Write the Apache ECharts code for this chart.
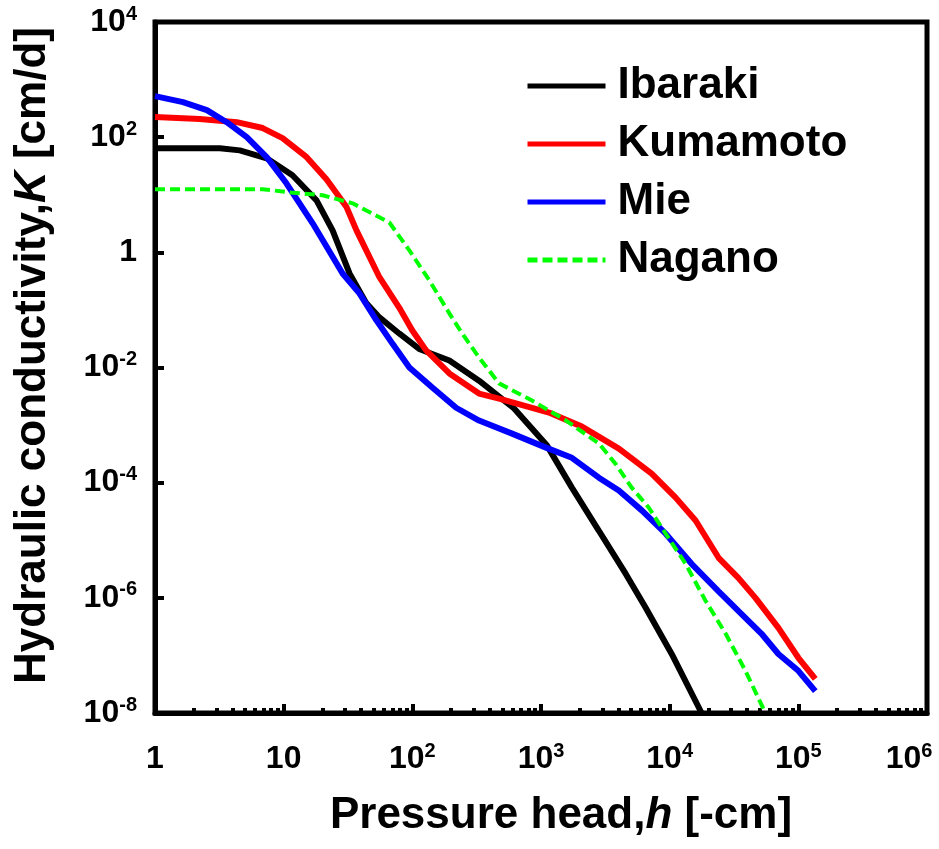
<!DOCTYPE html>
<html>
<head>
<meta charset="utf-8">
<script src="https://cdn.jsdelivr.net/npm/echarts@6/dist/echarts.min.js"></script>
<style>
  html, body { margin: 0; padding: 0; background: #fff; }
  #main { width: 939px; height: 849px; }
</style>
</head>
<body>
<div id="main"></div>
<script>
// 讀圖得到的數值 (h: 壓力水頭 [-cm], K: 透水係數 [cm/d])
var hIbaraki = [1, 3.19, 4.56, 7.38, 11.7, 18.0, 24.0, 32.5, 44, 55.5, 79, 113, 194, 330, 618, 1114, 1738, 2818, 4560, 6510, 10370, 17700];
var kIbaraki = [64, 64, 59, 43, 21.8, 8.0, 2.4, 0.43, 0.13, 0.074, 0.039, 0.021, 0.0132, 0.0059, 0.00194, 4.4e-4, 8.2e-5, 1.46e-5, 2.6e-6, 6.7e-7, 1.06e-7, 1e-8];

var hKumamoto = [1, 2.23, 4.32, 6.87, 9.8, 15.1, 21.5, 30.8, 36.8, 55.5, 79, 100, 128, 194, 330, 472, 1153, 2080, 4027, 7250, 11130, 15900, 24000, 34300, 46400, 70000, 100000, 135500];
var kKumamoto = [223, 206, 182, 144, 96, 45, 18.6, 6.1, 2.4, 0.37, 0.11, 0.044, 0.0198, 0.0079, 0.00353, 0.00289, 0.00165, 9.4e-4, 3.9e-4, 1.44e-4, 5.5e-5, 2.2e-5, 4.96e-6, 2.2e-6, 1e-6, 3.0e-7, 9.1e-8, 3.9e-8];

var hMie = [1, 1.65, 2.53, 3.61, 5.17, 7.38, 10.5, 16.8, 28.7, 38.8, 52.6, 70, 94.8, 143, 219, 330, 596, 1094, 1738, 2818, 4027, 6070, 9310, 14800, 24000, 34300, 51600, 70000, 100000, 135500];
var kMie = [516, 406, 295, 182, 100, 45, 15.8, 3.19, 0.43, 0.194, 0.066, 0.026, 0.01, 0.0045, 0.0020, 0.0012, 7.1e-4, 4.06e-4, 2.7e-4, 1.22e-4, 7.3e-5, 3.3e-5, 1.3e-5, 3.9e-6, 1.3e-6, 5.9e-7, 2.4e-7, 1.06e-7, 5.4e-8, 2.4e-8];

var hNagano = [1, 6.87, 11.1, 20.1, 34.3, 66.3, 94.8, 135, 194, 244, 330, 472, 851, 1563, 2818, 3811, 5070, 6870, 9310, 13300, 19000, 27200, 38800, 55500];
var kNagano = [12.5, 12.5, 11.0, 9.8, 7.1, 3.3, 1.08, 0.33, 0.087, 0.039, 0.0149, 0.0053, 0.00267, 0.0012, 4.8e-4, 2.1e-4, 8.2e-5, 3.7e-5, 1.3e-5, 3.9e-6, 8.9e-7, 2.4e-7, 5.4e-8, 1e-8];

var seriesNames = ['Ibaraki', 'Kumamoto', 'Mie', 'Nagano'];

function pairs(h, k) {
    return h.map(function (v, i) { return [v, k[i]]; });
}

// 10 的次方標籤 (上標)
function powLabel(value) {
    var e = Math.round(Math.log10(value));
    if (e === 0) return '{b|1}';
    if (e === 1) return '{b|10}';
    if (e === 6) return '{b|10}{s6|' + e + '}'; // 最右邊的標籤往左挪
    return '{b|10}{s|' + e + '}';
}

var labelRich = {
    b: { fontSize: 32, fontWeight: 'bold', lineHeight: 36, color: '#000', fontFamily: 'Liberation Sans' },
    s: { fontSize: 20, fontWeight: 'bold', lineHeight: 20, verticalAlign: 'top', color: '#000', fontFamily: 'Liberation Sans' },
    s6: { fontSize: 20, fontWeight: 'bold', lineHeight: 20, verticalAlign: 'top', color: '#000', fontFamily: 'Liberation Sans', padding: [0, 36, 0, 0] }
};

var chart = echarts.init(document.getElementById('main'));

var option = {
    backgroundColor: '#fff',
    animation: false,
    textStyle: { fontFamily: 'Liberation Sans' },
    grid: {
        left: 155, right: 12, top: 22, bottom: 136,
        outerBoundsMode: 'none',
        containLabel: false,
        show: true,
        borderColor: '#000',
        borderWidth: 5
    },
    legend: {
        data: seriesNames,
        orient: 'vertical',
        left: 520,
        top: 56,
        itemWidth: 78,
        itemHeight: 20,
        itemGap: 8,
        itemStyle: { opacity: 0 },
        lineStyle: { width: 5 },
        textStyle: {
            fontSize: 44,
            fontWeight: 'bold',
            color: '#000',
            lineHeight: 50,
            padding: [0, 0, 0, 7]
        }
    },
    xAxis: {
        type: 'log',
        logBase: 10,
        min: 1,
        max: 1e6,
        name: 'Pressure head,{i|h} [-cm]',
        nameLocation: 'middle',
        nameGap: 81,
        nameTextStyle: {
            fontSize: 44,
            fontWeight: 'bold',
            color: '#000',
            padding: [0, 0, 0, 40],
            rich: {
                i: { fontSize: 44, fontWeight: 'bold', fontStyle: 'italic', color: '#000' }
            }
        },
        axisLine: { lineStyle: { color: '#000', width: 5 } },
        axisTick: { inside: true, length: 9, lineStyle: { color: '#000', width: 4 } },
        minorTick: { show: true, splitNumber: 9, length: 5, lineStyle: { color: '#000', width: 4 } },
        splitLine: { show: false },
        axisLabel: {
            margin: 28,
            formatter: powLabel,
            rich: labelRich
        }
    },
    yAxis: {
        type: 'log',
        logBase: 10,
        min: 1e-8,
        max: 1e4,
        interval: 2,
        name: 'Hydraulic conductivity,{i|K} [cm/d]',
        nameLocation: 'middle',
        nameRotate: 90,
        nameGap: 100,
        nameTextStyle: {
            fontSize: 44,
            fontWeight: 'bold',
            color: '#000',
            padding: [0, 0, 0, 24],
            rich: {
                i: { fontSize: 44, fontWeight: 'bold', fontStyle: 'italic', color: '#000' }
            }
        },
        axisLine: { lineStyle: { color: '#000', width: 5 } },
        axisTick: { inside: true, length: 9, lineStyle: { color: '#000', width: 4 } },
        splitLine: { show: false },
        axisLabel: {
            margin: 18,
            formatter: powLabel,
            rich: labelRich
        }
    },
    series: [
        {
            name: 'Ibaraki', type: 'line', symbol: 'none', smooth: false,
            lineStyle: { color: '#000000', width: 6 },
            itemStyle: { color: '#000000' },
            data: pairs(hIbaraki, kIbaraki)
        },
        {
            name: 'Kumamoto', type: 'line', symbol: 'none', smooth: false,
            lineStyle: { color: '#ff0000', width: 6 },
            itemStyle: { color: '#ff0000' },
            data: pairs(hKumamoto, kKumamoto)
        },
        {
            name: 'Mie', type: 'line', symbol: 'none', smooth: false,
            lineStyle: { color: '#0000ff', width: 6 },
            itemStyle: { color: '#0000ff' },
            data: pairs(hMie, kMie)
        },
        {
            name: 'Nagano', type: 'line', symbol: 'none', smooth: false,
            lineStyle: { color: '#00ff00', width: 4, type: [10, 5] },
            itemStyle: { color: '#00ff00' },
            data: pairs(hNagano, kNagano)
        }
    ]
};

chart.setOption(option);
</script>
</body>
</html>
